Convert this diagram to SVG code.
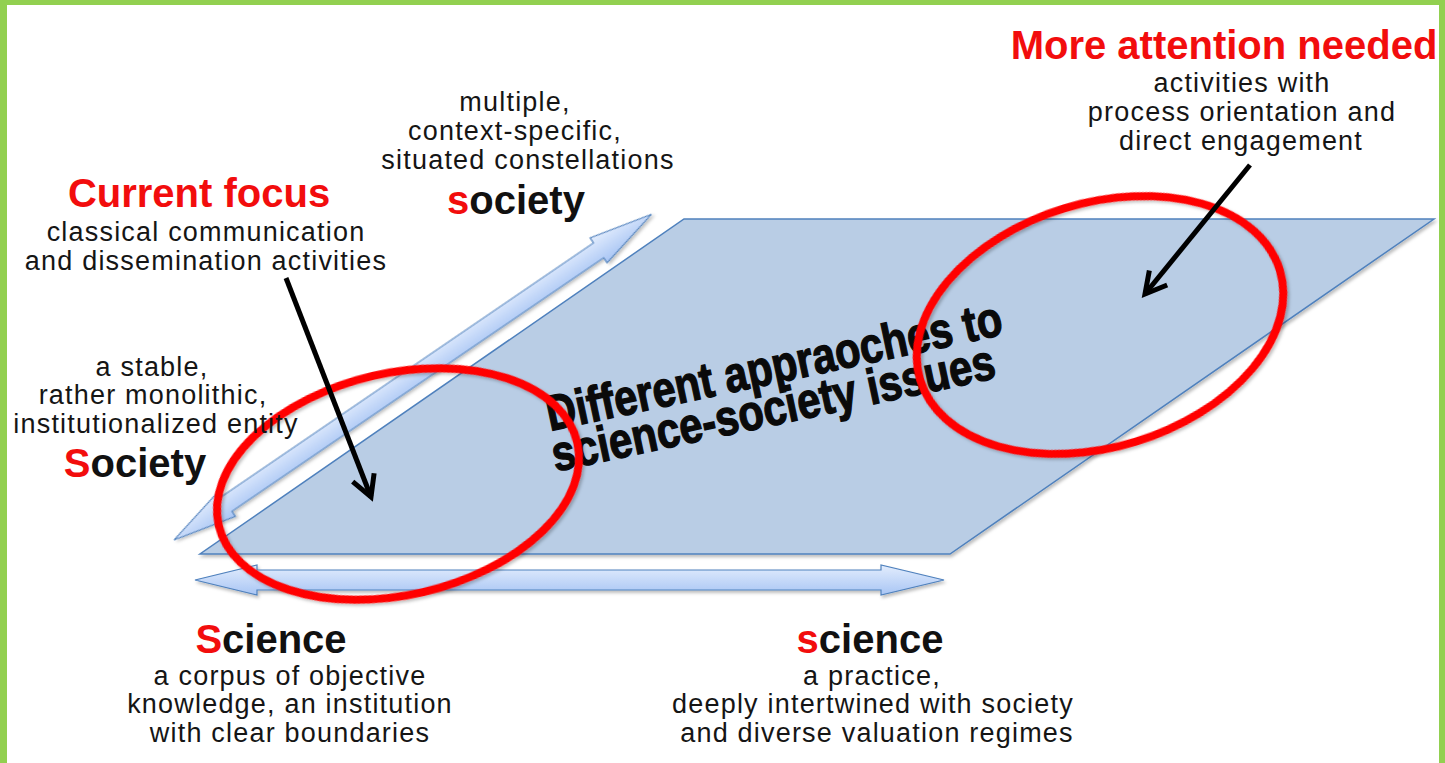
<svg xmlns="http://www.w3.org/2000/svg" width="1445" height="763" viewBox="0 0 1445 763">
<style>
.body{font-family:"Liberation Sans",Arial,sans-serif;font-size:27px;letter-spacing:1.2px;fill:#151515;text-anchor:middle}
.head{font-family:"Liberation Sans",Arial,sans-serif;font-size:40px;font-weight:bold;fill:#111;text-anchor:middle}
.red{fill:#f20d0d}
.big{font-family:"Liberation Sans Narrow","Liberation Sans",Arial,sans-serif;font-size:50px;font-weight:bold;fill:#0a0a0a;stroke:#0a0a0a;stroke-width:1.3}
.axis{fill:url(#ag);stroke:#4f81bd;stroke-width:1.2;filter:url(#sh)}
.ring{fill:none;stroke:#ff0000;stroke-width:8;filter:url(#sh)}
.ptr{fill:none;stroke:#000;stroke-width:5;stroke-linecap:butt}
</style>
<defs>
<linearGradient id="ag" x1="0" y1="0" x2="0" y2="1">
<stop offset="0" stop-color="#e3edfd"/>
<stop offset="1" stop-color="#a8c5f4"/>
</linearGradient>
<filter id="sh" x="-10%" y="-10%" width="120%" height="130%">
<feDropShadow dx="1.5" dy="2.5" stdDeviation="1.8" flood-color="#000" flood-opacity="0.25"/>
</filter>
<marker id="chev" markerUnits="userSpaceOnUse" markerWidth="40" markerHeight="40" viewBox="-30 -20 40 40" refX="0" refY="0" orient="auto" overflow="visible">
<path d="M-21,-11.5 L0,0 L-21,11.5" fill="none" stroke="#000" stroke-width="5" stroke-linejoin="miter"/>
</marker>
</defs>
<rect x="0" y="0" width="1445" height="763" fill="#ffffff"/>
<g id="frame" fill="#92d050">
<rect x="0" y="0" width="1445" height="5"/>
<rect x="0" y="0" width="7" height="763"/>
<rect x="1439" y="0" width="6" height="763"/>
</g>
<g id="plane">
<polygon points="200,554 950,554 1434,219 684,219" fill="#b9cde5" stroke="#4f81bd" stroke-width="1.5" filter="url(#sh)"/>
</g>
<g id="connectors">
<polygon class="axis" transform="translate(174,540) rotate(-34.3)" points="0,0 64,-15 64,-9 514,-9 514,-15 578,0 514,15 514,9 64,9 64,15"/>
<polygon class="axis" transform="translate(195,580)" points="0,0 62,-15 62,-10 686,-10 686,-15 749,0 686,15 686,10 62,10 62,15"/>
</g>
<g id="plane-label">
<g transform="translate(550,431) rotate(-12)">
<text class="big" x="0" y="0" textLength="465" lengthAdjust="spacingAndGlyphs">Different appraoches to</text>
<text class="big" x="-3" y="41" textLength="452" lengthAdjust="spacingAndGlyphs">science-society issues</text>
</g>
</g>
<g id="focus-rings">
<ellipse class="ring" cx="398" cy="484" rx="184" ry="111" transform="rotate(-13 398 484)"/>
<ellipse class="ring" cx="1100" cy="325" rx="188" ry="122" transform="rotate(-17 1100 325)"/>
</g>
<g id="pointers">
<line class="ptr" x1="286" y1="278" x2="371" y2="497" marker-end="url(#chev)"/>
<line class="ptr" x1="1250" y1="165" x2="1145" y2="294" marker-end="url(#chev)"/>
</g>
<g id="node-more-attention">
<text class="head red" x="1224" y="59">More attention needed</text>
<text class="body" x="1242" y="92">activities with</text>
<text class="body" x="1242" y="121">process orientation and</text>
<text class="body" x="1241" y="150">direct engagement</text>
</g>
<g id="node-society-small">
<text class="body" x="515" y="111">multiple,</text>
<text class="body" x="515" y="140">context-specific,</text>
<text class="body" x="528" y="169">situated constellations</text>
<text class="head" x="516" y="214"><tspan class="red">s</tspan>ociety</text>
</g>
<g id="node-current-focus">
<text class="head red" x="199" y="207">Current focus</text>
<text class="body" x="206" y="241">classical communication</text>
<text class="body" x="206" y="270">and dissemination activities</text>
</g>
<g id="node-society-capital">
<text class="body" x="152" y="376">a stable,</text>
<text class="body" x="153" y="404">rather monolithic,</text>
<text class="body" x="156" y="433">institutionalized entity</text>
<text class="head" x="135" y="477"><tspan class="red">S</tspan>ociety</text>
</g>
<g id="node-science-capital">
<text class="head" x="271" y="653"><tspan class="red">S</tspan>cience</text>
<text class="body" x="290" y="685">a corpus of objective</text>
<text class="body" x="290" y="713">knowledge, an institution</text>
<text class="body" x="290" y="742">with clear boundaries</text>
</g>
<g id="node-science-small">
<text class="head" x="870" y="653"><tspan class="red">s</tspan>cience</text>
<text class="body" x="872" y="685">a practice,</text>
<text class="body" x="873" y="713">deeply intertwined with society</text>
<text class="body" x="877" y="742">and diverse valuation regimes</text>
</g>
</svg>
